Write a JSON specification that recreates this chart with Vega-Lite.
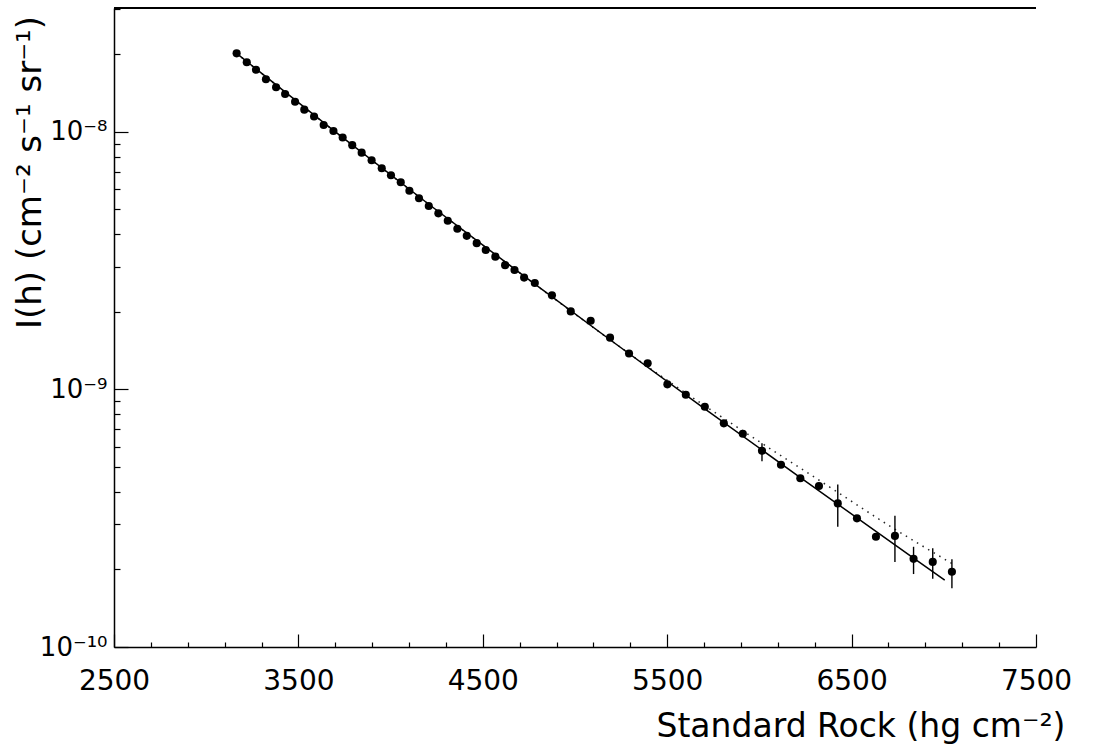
{
  "$schema": "https://vega.github.io/schema/vega-lite/v6.json",
  "width": 922,
  "height": 639,
  "autosize": "none",
  "padding": {"left": 114, "top": 8, "right": 64, "bottom": 97},
  "background": "white",
  "config": {"view": {"stroke": null}, "font": "DejaVu Sans"},
  "datasets": {
    "points": [
      {"depth": 3165, "flux": 2.02e-8}, {"depth": 3220, "flux": 1.865e-8}, {"depth": 3270, "flux": 1.745e-8},
      {"depth": 3324, "flux": 1.602e-8}, {"depth": 3379, "flux": 1.492e-8}, {"depth": 3428, "flux": 1.405e-8},
      {"depth": 3482, "flux": 1.311e-8}, {"depth": 3532, "flux": 1.221e-8}, {"depth": 3585, "flux": 1.149e-8},
      {"depth": 3637, "flux": 1.064e-8}, {"depth": 3690, "flux": 1.009e-8}, {"depth": 3740, "flux": 9.52e-9},
      {"depth": 3792, "flux": 8.89e-9}, {"depth": 3843, "flux": 8.31e-9}, {"depth": 3897, "flux": 7.77e-9},
      {"depth": 3952, "flux": 7.23e-9}, {"depth": 4002, "flux": 6.79e-9}, {"depth": 4055, "flux": 6.38e-9},
      {"depth": 4102, "flux": 5.91e-9}, {"depth": 4154, "flux": 5.53e-9}, {"depth": 4207, "flux": 5.16e-9},
      {"depth": 4259, "flux": 4.83e-9}, {"depth": 4310, "flux": 4.52e-9}, {"depth": 4362, "flux": 4.21e-9},
      {"depth": 4413, "flux": 3.95e-9}, {"depth": 4467, "flux": 3.70e-9}, {"depth": 4516, "flux": 3.48e-9},
      {"depth": 4568, "flux": 3.28e-9}, {"depth": 4621, "flux": 3.04e-9}, {"depth": 4672, "flux": 2.91e-9},
      {"depth": 4724, "flux": 2.72e-9}, {"depth": 4782, "flux": 2.59e-9}, {"depth": 4875, "flux": 2.32e-9},
      {"depth": 4977, "flux": 2.01e-9}, {"depth": 5085, "flux": 1.85e-9}, {"depth": 5190, "flux": 1.59e-9},
      {"depth": 5293, "flux": 1.38e-9}, {"depth": 5394, "flux": 1.264e-9}, {"depth": 5501, "flux": 1.047e-9},
      {"depth": 5601, "flux": 9.54e-10}, {"depth": 5704, "flux": 8.57e-10}, {"depth": 5807, "flux": 7.39e-10},
      {"depth": 5910, "flux": 6.73e-10}, {"depth": 6014, "flux": 5.78e-10}, {"depth": 6117, "flux": 5.10e-10},
      {"depth": 6222, "flux": 4.52e-10}, {"depth": 6323, "flux": 4.22e-10}, {"depth": 6425, "flux": 3.61e-10},
      {"depth": 6529, "flux": 3.16e-10}, {"depth": 6632, "flux": 2.68e-10}, {"depth": 6735, "flux": 2.70e-10},
      {"depth": 6836, "flux": 2.20e-10}, {"depth": 6940, "flux": 2.14e-10}, {"depth": 7044, "flux": 1.96e-10}
    ],
    "errors": [
      {"depth": 6014, "lo": 5.27e-10, "hi": 6.18e-10},
      {"depth": 6425, "lo": 2.93e-10, "hi": 4.28e-10},
      {"depth": 6735, "lo": 2.14e-10, "hi": 3.23e-10},
      {"depth": 6836, "lo": 1.92e-10, "hi": 2.45e-10},
      {"depth": 6940, "lo": 1.84e-10, "hi": 2.42e-10},
      {"depth": 7044, "lo": 1.69e-10, "hi": 2.19e-10}
    ],
    "solid": [
      {"depth": 3165, "flux": 2.018e-8}, {"depth": 3690, "flux": 1.014e-8}, {"depth": 4207, "flux": 5.24e-9},
      {"depth": 4724, "flux": 2.754e-9}, {"depth": 5190, "flux": 1.56e-9}, {"depth": 5704, "flux": 8.41e-10},
      {"depth": 6222, "flux": 4.55e-10}, {"depth": 6836, "flux": 2.213e-10}, {"depth": 7005, "flux": 1.82e-10}
    ],
    "dotted": [
      {"depth": 3165, "flux": 2.018e-8}, {"depth": 3690, "flux": 1.014e-8}, {"depth": 4207, "flux": 5.24e-9},
      {"depth": 4724, "flux": 2.754e-9}, {"depth": 5190, "flux": 1.56e-9}, {"depth": 5501, "flux": 1.084e-9},
      {"depth": 6012, "flux": 6.19e-10}, {"depth": 6381, "flux": 4.18e-10}, {"depth": 6707, "flux": 2.95e-10},
      {"depth": 7054, "flux": 2.09e-10}
    ]
  },
  "layer": [
    {
      "data": {"name": "solid"},
      "mark": {"type": "line", "color": "black", "strokeWidth": 1.5, "interpolate": "monotone"},
      "encoding": {
        "x": {
          "field": "depth", "type": "quantitative",
          "scale": {"domain": [2500, 7500], "nice": false, "zero": false},
          "axis": {
            "title": "Standard Rock (hg cm⁻²)",
            "values": [2500, 2700, 2900, 3100, 3300, 3500, 3700, 3900, 4100, 4300, 4500, 4700, 4900, 5100, 5300, 5500, 5700, 5900, 6100, 6300, 6500, 6700, 6900, 7100, 7300, 7500],
            "tickCount": 200,
            "labelExpr": "(datum.value - 2500) % 1000 == 0 ? '' + datum.value : ''",
            "grid": false,
            "domainColor": "black", "domainWidth": 1.5,
            "tickColor": "black", "tickWidth": 1.2,
            "tickSize": {"condition": {"test": "(datum.value - 2500) % 1000 == 0", "value": -13}, "value": -5},
            "labelPadding": 33,
            "labelBaseline": "top",
            "labelFontSize": 28, "labelColor": "black", "labelFlush": false, "labelOverlap": false,
            "titleFontSize": 33, "titleFontWeight": "normal", "titleColor": "black",
            "titleX": 951, "titleY": 89, "titleAlign": "right", "titleBaseline": "alphabetic"
          }
        },
        "y": {
          "field": "flux", "type": "quantitative",
          "scale": {"type": "log", "domain": [1e-10, 3.03e-8], "nice": false},
          "axis": {
            "title": "I(h) (cm⁻² s⁻¹ sr⁻¹)",
            "values": [1e-10, 2e-10, 3e-10, 4e-10, 5e-10, 6e-10, 7e-10, 8e-10, 9e-10, 1e-9, 2e-9, 3e-9, 4e-9, 5e-9, 6e-9, 7e-9, 8e-9, 9e-9, 1e-8, 2e-8, 3e-8],
            "tickCount": 200,
            "labelExpr": "datum.value == 1e-10 ? '10⁻¹⁰' : datum.value == 1e-9 ? '10⁻⁹' : datum.value == 1e-8 ? '10⁻⁸' : ''",
            "grid": false,
            "domainColor": "black", "domainWidth": 1.5,
            "tickColor": "black", "tickWidth": 1.2,
            "tickSize": {"condition": {"test": "datum.value == 1e-10 || datum.value == 1e-9 || datum.value == 1e-8", "value": -14}, "value": -6},
            "labelPadding": 21,
            "labelFontSize": 26, "labelColor": "black", "labelFlush": false, "labelOverlap": false,
            "titleFontSize": 34, "titleFontWeight": "normal", "titleColor": "black",
            "titleX": -84, "titleY": 164, "titleAlign": "center", "titleBaseline": "middle", "titleAngle": -90
          }
        }
      }
    },
    {
      "data": {"name": "dotted"},
      "mark": {"type": "line", "color": "black", "strokeWidth": 1.5, "strokeDash": [1.5, 5], "opacity": 0.85, "interpolate": "monotone"},
      "encoding": {
        "x": {"field": "depth", "type": "quantitative"},
        "y": {"field": "flux", "type": "quantitative"}
      }
    },
    {
      "data": {"name": "errors"},
      "mark": {"type": "rule", "color": "black", "strokeWidth": 1.4},
      "encoding": {
        "x": {"field": "depth", "type": "quantitative"},
        "y": {"field": "lo", "type": "quantitative"},
        "y2": {"field": "hi"}
      }
    },
    {
      "data": {"name": "points"},
      "mark": {"type": "circle", "color": "black", "opacity": 1, "size": 66},
      "encoding": {
        "x": {"field": "depth", "type": "quantitative"},
        "y": {"field": "flux", "type": "quantitative"}
      }
    },
    {
      "data": {"values": [{}]},
      "mark": {"type": "rule", "color": "black", "strokeWidth": 1.8},
      "encoding": {
        "y": {"datum": 3.03e-8, "type": "quantitative"}
      }
    }
  ]
}
